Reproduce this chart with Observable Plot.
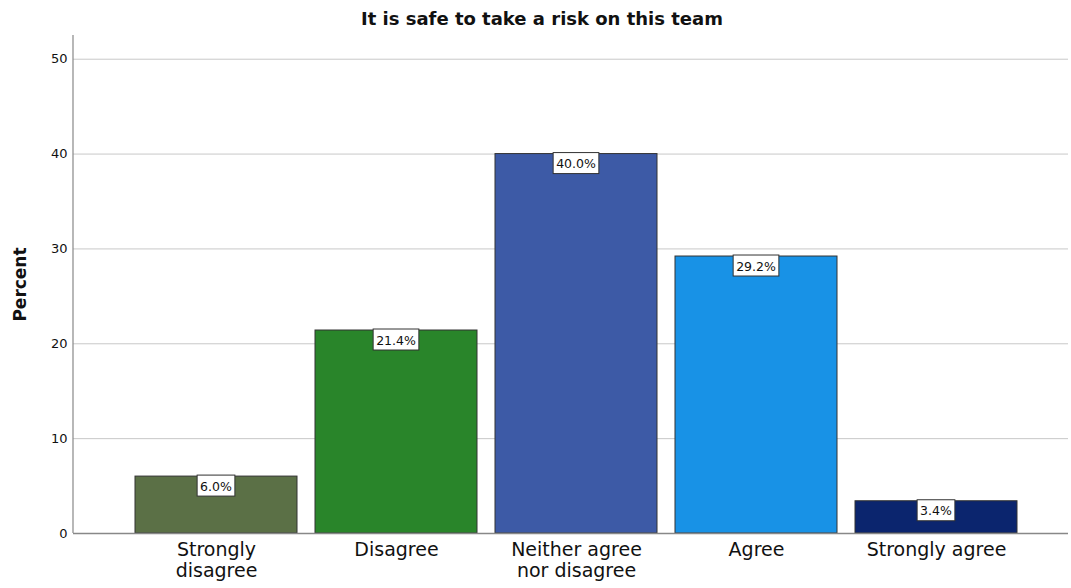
<!DOCTYPE html>
<html>
<head>
<meta charset="utf-8">
<script src="https://cdn.jsdelivr.net/npm/d3@7"></script>
<script src="https://cdn.jsdelivr.net/npm/@observablehq/plot@0.6"></script>
<style>
  body { margin: 0; background: #fff; font-family: "DejaVu Sans", sans-serif; }
  #title { width: 1071px; height: 35px; line-height: 37px; text-align: center; font-weight: bold; font-size: 18px; color: #111; padding-left: 13px; box-sizing: border-box; }
</style>
</head>
<body>
<div id="title">It is safe to take a risk on this team</div>
<div id="chart"></div>
<script>
const categories = ["Strongly disagree", "Disagree", "Neither agree nor disagree", "Agree", "Strongly agree"];
const tickLabels = ["Strongly\ndisagree", "Disagree", "Neither agree\nnor disagree", "Agree", "Strongly agree"];
const percents = [6.0, 21.4, 40.0, 29.2, 3.4];
const colors = ["#5b7046", "#29852a", "#3d5aa6", "#1892e6", "#0b256e"];
const yTicks = [0, 10, 20, 30, 40, 50];

const data = categories.map((c, i) => ({cat: c, value: percents[i], label: percents[i].toFixed(1) + "%", color: colors[i]}));
const labelMap = new Map(categories.map((c, i) => [c, tickLabels[i]]));

const canvas = document.createElement("canvas");
const ctx = canvas.getContext("2d");
ctx.font = "12.5px 'DejaVu Sans'";

function labelBoxes(index, scales, values, dimensions) {
  const g = d3.create("svg:g");
  const bw = scales.x.bandwidth ? scales.x.bandwidth() : 0;
  for (const d of data) {
    const cx = scales.x(d.cat) + bw / 2;
    const top = scales.y(d.value);
    const w = ctx.measureText(d.label).width + 6;
    g.append("rect").attr("x", cx - w / 2).attr("y", top - 1).attr("width", w).attr("height", 21)
      .attr("fill", "#fff").attr("stroke", "#333").attr("stroke-width", 1);
    g.append("text").attr("x", cx).attr("y", top + 10).attr("text-anchor", "middle")
      .attr("dominant-baseline", "central").attr("font-size", 12.5).attr("fill", "#111")
      .attr("font-family", "DejaVu Sans, sans-serif").text(d.label);
  }
  return g.node();
}

function leftAxisLine(index, scales, values, dimensions) {
  const {marginLeft, marginTop, height, marginBottom} = dimensions;
  return d3.create("svg:line").attr("x1", marginLeft).attr("x2", marginLeft)
    .attr("y1", marginTop).attr("y2", height - marginBottom)
    .attr("stroke", "#888").attr("stroke-width", 1.2).node();
}

const plot = Plot.plot({
  width: 1071,
  height: 553,
  marginTop: 0,
  marginBottom: 55,
  marginLeft: 73,
  marginRight: 3,
  style: {fontFamily: "DejaVu Sans, sans-serif", color: "#111", background: "#fff"},
  x: {domain: categories, paddingInner: 0.1, paddingOuter: 0.3, align: 0.55, label: null},
  y: {domain: [0, 52.5], label: null},
  marks: [
    Plot.gridY(yTicks.filter(t => t > 0), {stroke: "#c8c8c8", strokeOpacity: 1}),
    Plot.barY(data, {x: "cat", y: "value", fill: "color", stroke: "#333", strokeWidth: 1}),
    Plot.ruleY([0], {stroke: "#888", strokeWidth: 1.5}),
    leftAxisLine,
    Plot.axisY({ticks: yTicks, tickSize: 0, tickPadding: 6, fontSize: 13, label: null}),
    Plot.axisX({tickSize: 0, tickPadding: 8, fontSize: 19, lineHeight: 1.1, tickFormat: d => labelMap.get(d), label: null}),
    Plot.text(["Percent"], {text: d => d, frameAnchor: "left", textAnchor: "middle", rotate: -90, dx: -53, fontSize: 17, fontWeight: "bold"}),
    labelBoxes
  ]
});
document.getElementById("chart").appendChild(plot);
</script>
</body>
</html>
